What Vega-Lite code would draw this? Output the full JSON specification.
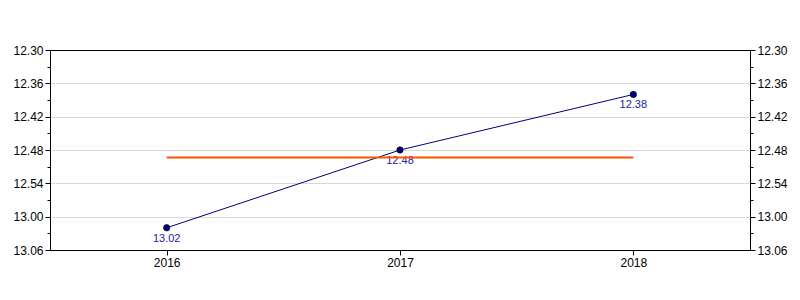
{
  "$schema": "https://vega.github.io/schema/vega-lite/v6.json",
  "autosize": "none",
  "width": 700,
  "height": 200,
  "padding": {"left": 50, "top": 50, "right": 50, "bottom": 50},
  "background": "white",
  "config": {
    "view": {"stroke": "black", "strokeWidth": 1},
    "axis": {
      "labelFont": "Liberation Sans",
      "labelFontSize": 12,
      "labelColor": "black",
      "tickColor": "black",
      "domainColor": "black",
      "title": null,
      "labelPadding": 2
    }
  },
  "data": {
    "values": [
      {"year": "2016", "time": 782, "label": "13.02"},
      {"year": "2017", "time": 768, "label": "12.48"},
      {"year": "2018", "time": 758, "label": "12.38"}
    ]
  },
  "resolve": {"axis": {"y": "independent", "x": "independent"}},
  "layer": [
    {
      "mark": {"type": "line", "color": "#000080", "strokeWidth": 1},
      "encoding": {
        "x": {
          "field": "year",
          "type": "ordinal",
          "scale": {"type": "point", "padding": 0.5},
          "axis": {"orient": "bottom", "labelAngle": 0, "tickSize": 5, "grid": false, "domain": true}
        },
        "y": {
          "field": "time",
          "type": "quantitative",
          "scale": {"domain": [750, 786], "reverse": true, "nice": false, "zero": false},
          "axis": {
            "orient": "left",
            "values": [750, 756, 762, 768, 774, 780, 786],
            "tickSize": 5,
            "grid": true,
            "gridColor": "#d9d9d9",
            "domain": true,
            "labelExpr": "floor(datum.value/60) + '.' + (datum.value % 60 < 10 ? '0' : '') + (datum.value % 60)"
          }
        }
      }
    },
    {
      "mark": {"type": "point", "filled": true, "color": "#000080", "stroke": "black", "strokeWidth": 0.7, "size": 40, "opacity": 1},
      "encoding": {
        "x": {"field": "year", "type": "ordinal", "axis": null},
        "y": {
          "field": "time",
          "type": "quantitative",
          "axis": {
            "orient": "left",
            "values": [753, 759, 765, 771, 777, 783],
            "tickSize": 3,
            "labels": false,
            "grid": false,
            "domain": false
          }
        }
      }
    },
    {
      "mark": {"type": "text", "color": "#22229a", "baseline": "top", "dy": 5, "font": "Liberation Sans", "fontSize": 11},
      "encoding": {
        "text": {"field": "label"},
        "x": {
          "field": "year",
          "type": "ordinal",
          "axis": {"orient": "top", "labels": false, "ticks": false, "grid": false, "domain": true}
        },
        "y": {
          "field": "time",
          "type": "quantitative",
          "axis": {
            "orient": "right",
            "values": [753, 759, 765, 771, 777, 783],
            "tickSize": 3,
            "labels": false,
            "grid": false,
            "domain": false
          }
        }
      }
    },
    {
      "transform": [{"joinaggregate": [{"op": "mean", "field": "time", "as": "avg"}]}],
      "mark": {"type": "line", "color": "#ff5500", "strokeWidth": 2},
      "encoding": {
        "x": {"field": "year", "type": "ordinal", "axis": null},
        "y": {
          "field": "avg",
          "type": "quantitative",
          "axis": {
            "orient": "right",
            "values": [750, 756, 762, 768, 774, 780, 786],
            "tickSize": 5,
            "grid": false,
            "domain": true,
            "labelExpr": "floor(datum.value/60) + '.' + (datum.value % 60 < 10 ? '0' : '') + (datum.value % 60)"
          }
        }
      }
    }
  ]
}
